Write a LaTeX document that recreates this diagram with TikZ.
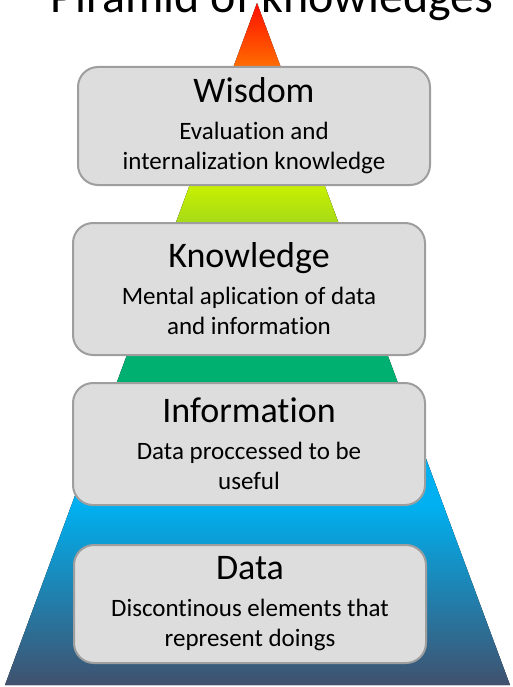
\documentclass[tikz,border=0pt]{standalone}
\usepackage{fontspec}
\setmainfont[Ligatures=NoCommon]{Carlito}
\usepackage{tikz}
\usetikzlibrary{arrows,shapes}
\definecolor{apexred}{HTML}{FF0A00}
\definecolor{tiporange}{HTML}{FF6A00}
\definecolor{lime}{HTML}{C8F000}
\definecolor{darklime}{HTML}{A6DA18}
\definecolor{leafgreen}{HTML}{00B070}
\definecolor{skyblue}{HTML}{00B0F0}
\definecolor{midblue}{HTML}{2280B8}
\definecolor{slateblue}{HTML}{41506C}
\definecolor{boxgray}{HTML}{DDDDDD}
\definecolor{rimgray}{HTML}{9E9E9E}
\tikzstyle{level box}=[rectangle, draw=rimgray, fill=boxgray
,line width=2pt
,rounded corners=20pt
,minimum width=352pt
,align=center
,inner sep=0pt
,font=\fontsize{25}{30}\selectfont
]
\tikzstyle{title}=[font=\fontsize{48}{48}\selectfont, inner sep=0pt]
\newcommand{\headfont}{\fontsize{36}{36}\selectfont}

\begin{document}
\begin{tikzpicture}[x=1pt,y=-1pt]
    \useasboundingbox (0,0) rectangle (513,687);
    \clip (0,0) rectangle (513,687);
    % Corners of the pyramid
    \coordinate (apex) at (257,3);
    \coordinate (left base) at (5,685);
    \coordinate (right base) at (510,685);

    % First we fill the pyramid band by band
    \begin{scope}
        \clip (apex) -- (left base) -- (right base) -- cycle;
        \foreach \ya/\yb/\ca/\cb in {0/65/apexred/tiporange, 65/185/tiporange/lime,
            185/223/lime/darklime, 223/355/darklime/leafgreen, 355/383/leafgreen/leafgreen,
            383/445/leafgreen/skyblue, 445/505/skyblue/skyblue}
            \fill[top color=\ca, bottom color=\cb] (0,\ya) rectangle (513,\yb);
        \fill[top color=skyblue, middle color=midblue, bottom color=slateblue] (0,505) rectangle (513,687);
    \end{scope}

    % Title
    \node[title, anchor=base] (title) at (272,13) {Piramid of knowledges};

    % Then the four levels
    \foreach \pos/\name/\h/\head/\sub in {
        {(254,126)/wisdom/118/Wisdom/{Evaluation and\\internalization knowledge}},
        {(249,289)/knowledge/132/Knowledge/{Mental aplication of data\\and information}},
        {(249,444)/information/122/Information/{Data proccessed to be\\useful}},
        {(250,604)/data/118/Data/{Discontinous elements that\\represent doings}}}
        \node[level box, minimum height=\h pt] (\name) at \pos {{\headfont \head}\\[7pt]\sub};

\end{tikzpicture}
\end{document}
